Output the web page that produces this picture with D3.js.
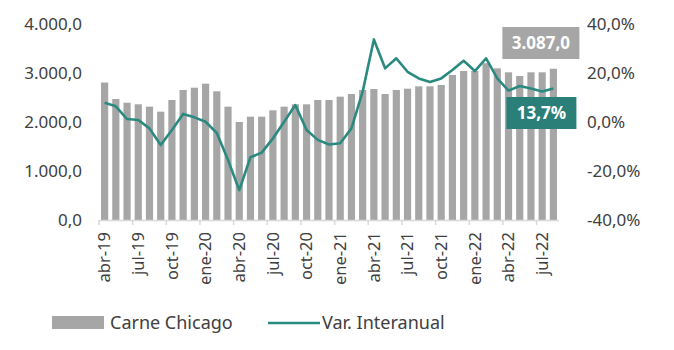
<!DOCTYPE html>
<html><head><meta charset="utf-8">
<script src="https://cdn.jsdelivr.net/npm/d3@7"></script>
<style>
html,body{margin:0;padding:0;background:#fff;}
svg{display:block;font-family:"Noto Sans","Open Sans",sans-serif;}
</style></head>
<body><svg id="c" width="674" height="350"></svg>
<script>
const months = ["ene","feb","mar","abr","may","jun","jul","ago","sep","oct","nov","dic"];
const categories = [];
for (let y = 2019, m = 3; !(y === 2022 && m === 8); ) {
  categories.push(months[m] + "-" + String(y).slice(2));
  m++; if (m === 12) { m = 0; y++; }
}
const carneChicago = [2805,2469,2394,2361,2313,2211,2449,2653,2700,2782,2626,2313,
  2000,2109,2109,2238,2313,2361,2361,2449,2449,2517,2571,2653,2673,2571,2653,2680,
  2728,2728,2755,2959,3041,3041,3200,3095,3014,2939,3014,3014,3087];
const varInteranual = [7.9,6.4,1.2,0.8,-2.6,-9.4,-3.3,3.3,1.9,0.1,-4.5,-15.5,
  -27.8,-14.4,-12.5,-6.7,0.1,6.9,-3.3,-7.3,-9.2,-8.7,-2.6,12.4,33.7,21.9,26.0,20.5,
  17.8,16.3,17.8,21.2,25.0,20.8,26.0,17.8,12.8,14.7,13.7,12.4,13.7];
const leftTicks = [0,1000,2000,3000,4000];
const rightTicks = [-40,-20,0,20,40];
const tickLabelCats = categories.filter((d,i) => i % 3 === 0);

const fmtN = v => d3.format(",.1f")(v).replace(/,/g,"#").replace(/\./g,",").replace(/#/g,".").replace("\u2212","-");
const fmtP = v => d3.format(".1f")(v).replace(".",",").replace("\u2212","-") + "%";

const svg = d3.select("#c");
const x = d3.scaleBand().domain(categories).range([99, 559]).paddingInner(0.36).paddingOuter(0.18);
const yL = d3.scaleLinear().domain([0,4000]).range([220,24]);
const yR = d3.scaleLinear().domain([-40,40]).range([220,24]);
const textColor = "#404040";
const barColor = "#a6a6a6";
const lineColor = "#2b8a80";

// bars
svg.append("g").selectAll("rect").data(carneChicago).join("rect")
  .attr("x", (d,i) => x(categories[i]))
  .attr("width", x.bandwidth())
  .attr("y", d => yL(d))
  .attr("height", d => yL(0) - yL(d))
  .attr("fill", barColor);

// x axis line and ticks
const gx = svg.append("g");
gx.append("line").attr("x1", 99).attr("x2", 559).attr("y1", 220.5).attr("y2", 220.5)
  .attr("stroke", "#d9d9d9").attr("stroke-width", 1.5);
const step = x.step();
gx.selectAll("line.t").data(tickLabelCats).join("line").attr("class","t")
  .attr("x1", d => x(d) - x.paddingInner()*step/2).attr("x2", d => x(d) - x.paddingInner()*step/2)
  .attr("y1", 220).attr("y2", 225).attr("stroke", "#d9d9d9").attr("stroke-width", 1.5);
gx.selectAll("text").data(tickLabelCats).join("text")
  .attr("transform", d => `translate(${x(d) + x.bandwidth()/2},232) rotate(-90)`)
  .attr("text-anchor", "end").attr("dy", "0.35em")
  .attr("font-size", 16.5).attr("fill", textColor).text(d => d);

// left axis
svg.append("g").selectAll("text").data(leftTicks).join("text")
  .attr("x", 82).attr("y", d => yL(d)).attr("dy", "0.35em")
  .attr("text-anchor", "end").attr("font-size", 17).attr("fill", textColor)
  .text(d => fmtN(d));

// right axis
svg.append("g").selectAll("text").data(rightTicks).join("text")
  .attr("x", 587).attr("y", d => yR(d)).attr("dy", "0.35em")
  .attr("text-anchor", "start").attr("font-size", 17).attr("fill", textColor)
  .text(d => fmtP(d));

// line
const line = d3.line().x((d,i) => x(categories[i]) + x.bandwidth()/2).y(d => yR(d));
svg.append("path").datum(varInteranual).attr("d", line)
  .attr("fill", "none").attr("stroke", lineColor).attr("stroke-width", 2.6)
  .attr("stroke-linejoin", "round");

// annotations
const lastI = categories.length - 1;
const lx = x(categories[lastI]) + x.bandwidth()/2;
const ann = [
  {text: fmtN(carneChicago[lastI]), fill: barColor, x0: lx - 51, w: 77, y0: 27, h: 32},
  {text: fmtP(varInteranual[lastI]), fill: "#2a7f78", x0: lx - 47, w: 70, y0: 97, h: 32}
];
const ga = svg.append("g");
ann.forEach(a => {
  ga.append("rect").attr("x", a.x0).attr("y", a.y0).attr("width", a.w).attr("height", a.h).attr("fill", a.fill);
  ga.append("text").attr("x", a.x0 + a.w/2).attr("y", a.y0 + a.h/2).attr("dy","0.35em")
    .attr("text-anchor","middle").attr("font-size", 17).attr("font-weight","bold")
    .attr("fill","#fff").text(a.text);
});

// legend
const lg = svg.append("g");
lg.append("rect").attr("x", 52).attr("y", 316).attr("width", 52).attr("height", 13).attr("fill", barColor);
lg.append("text").attr("x", 110).attr("y", 323).attr("dy","0.35em").attr("font-size", 18)
  .attr("fill", textColor).text("Carne Chicago");
lg.append("line").attr("x1", 268).attr("x2", 320).attr("y1", 323).attr("y2", 323)
  .attr("stroke", lineColor).attr("stroke-width", 2.6);
lg.append("text").attr("x", 322).attr("y", 323).attr("dy","0.35em").attr("font-size", 18)
  .attr("fill", textColor).text("Var. Interanual");
</script></body></html>
